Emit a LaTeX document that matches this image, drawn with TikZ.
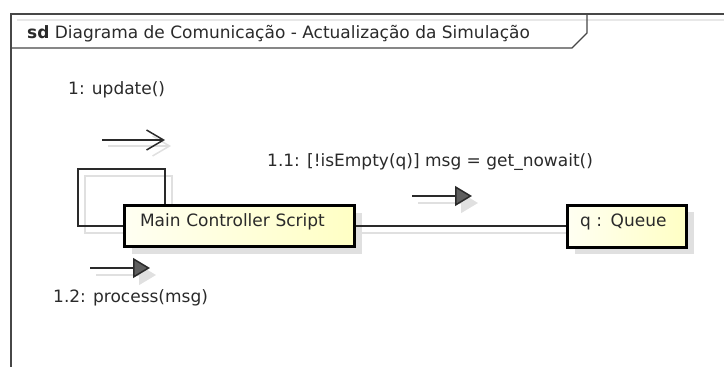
\documentclass[tikz,border=0pt]{standalone}
\usepackage{fontspec}
\setmainfont{DejaVu Sans}
\usetikzlibrary{arrows.meta,shadows,backgrounds}
\definecolor{ink}{HTML}{2A2A2A}
\definecolor{framec}{HTML}{474747}
\definecolor{shade}{HTML}{E0E0E0}
\definecolor{boxlight}{HTML}{FFFFF2}
\definecolor{boxdark}{HTML}{FFFFC4}
\definecolor{headfill}{HTML}{5E5E5E}

\begin{document}
\begin{tikzpicture}[x=1pt,y=-1pt,
  font=\fontsize{17}{20}\selectfont, text=ink,
  objbox/.style={draw=black, line width=3pt,
    left color=boxlight, right color=boxdark,
    general shadow={fill=shade, shadow xshift=7pt, shadow yshift=-7pt},
    inner ysep=0pt, text height=13pt, text depth=13pt, align=left},
  link/.style={draw=ink, line width=1.5pt},
  linkshadow/.style={draw=shade, line width=1.5pt},
  framestyle/.style={draw=framec, line width=1.4pt},
  framehint/.style={draw=black!9, line width=1.4pt},
  msgtext/.style={anchor=base west, inner sep=0pt},
  asyncmsg/.style={draw=ink, line width=1.5pt,
    -{Straight Barb[length=17pt,width=20pt,line width=1.5pt]}},
  asyncshadow/.style={draw=shade, line width=1.5pt,
    -{Straight Barb[length=17pt,width=20pt,line width=1.5pt]}},
  callmsg/.style={draw=ink, line width=1.5pt,
    -{Triangle[length=17pt,width=20pt,fill=headfill]}},
  callshadow/.style={draw=shade, line width=1.5pt,
    -{Triangle[length=17pt,width=20pt,fill=shade]}},
]
\useasboundingbox (0,0) rectangle (724,367);

% diagram frame and its name tab
\draw[framehint] (17,20) -- (724,20);
\draw[framestyle] (11,367) -- (11,14) -- (724,14);
\draw[framestyle] (11,48) -- (572,48) -- (587,33) -- (587,14);
\node[msgtext] (title) at (27,38) {\textbf{sd} Diagrama de Comunicação - Actualização da Simulação};

% lifeline objects
\node[objbox, minimum width=230pt, minimum height=41pt,
      text width=199pt, inner xsep=15.5pt] (main) at (239.5,226) {Main Controller Script};
\node[objbox, minimum width=119pt, minimum height=42pt,
      text width=94pt, inner xsep=12.5pt] (queue) at (627,226) {q : Queue};

% self link of the controller and the link to the queue
\coordinate (loopL) at (78,169);
\coordinate (loopR) at (165,169);
\coordinate (loopLs) at (85,176);
\coordinate (loopRs) at (172,176);
\begin{pgfonlayer}{background}
  \draw[linkshadow] ([yshift=-7pt]main.west) -| (loopLs) -- (loopRs) -- (loopRs |- main.north);
  \draw[linkshadow] ([yshift=-7pt]main.east) -- ([yshift=-7pt]queue.west);
\end{pgfonlayer}
\draw[link] (main.west) -| (loopL) -- (loopR) -- (loopR |- main.north);
\draw[link] (main.east) -- (queue.west);

% message arrows
\coordinate (m1s) at (102,140);  \coordinate (m1e) at (165,140);
\coordinate (m1ss) at (108,146); \coordinate (m1se) at (171,146);
\coordinate (m2s) at (412,196);  \coordinate (m2e) at (472,196);
\coordinate (m2ss) at (418,203); \coordinate (m2se) at (478,203);
\coordinate (m3s) at (90,268);   \coordinate (m3e) at (150,268);
\coordinate (m3ss) at (96,275);  \coordinate (m3se) at (156,275);

\draw[asyncshadow] (m1ss) -- (m1se);
\draw[asyncmsg] (m1s) -- (m1e);
\draw[callshadow] (m2ss) -- (m2se);
\draw[callmsg] (m2s) -- (m2e);
\draw[callshadow] (m3ss) -- (m3se);
\draw[callmsg] (m3s) -- (m3e);

% message labels
\node[msgtext] (lab1) at (68,94) {1: update()};
\node[msgtext] (lab11) at (267,166) {1.1: [!isEmpty(q)] msg = get\_nowait()};
\node[msgtext] (lab12) at (53,302) {1.2: process(msg)};
\end{tikzpicture}
\end{document}
